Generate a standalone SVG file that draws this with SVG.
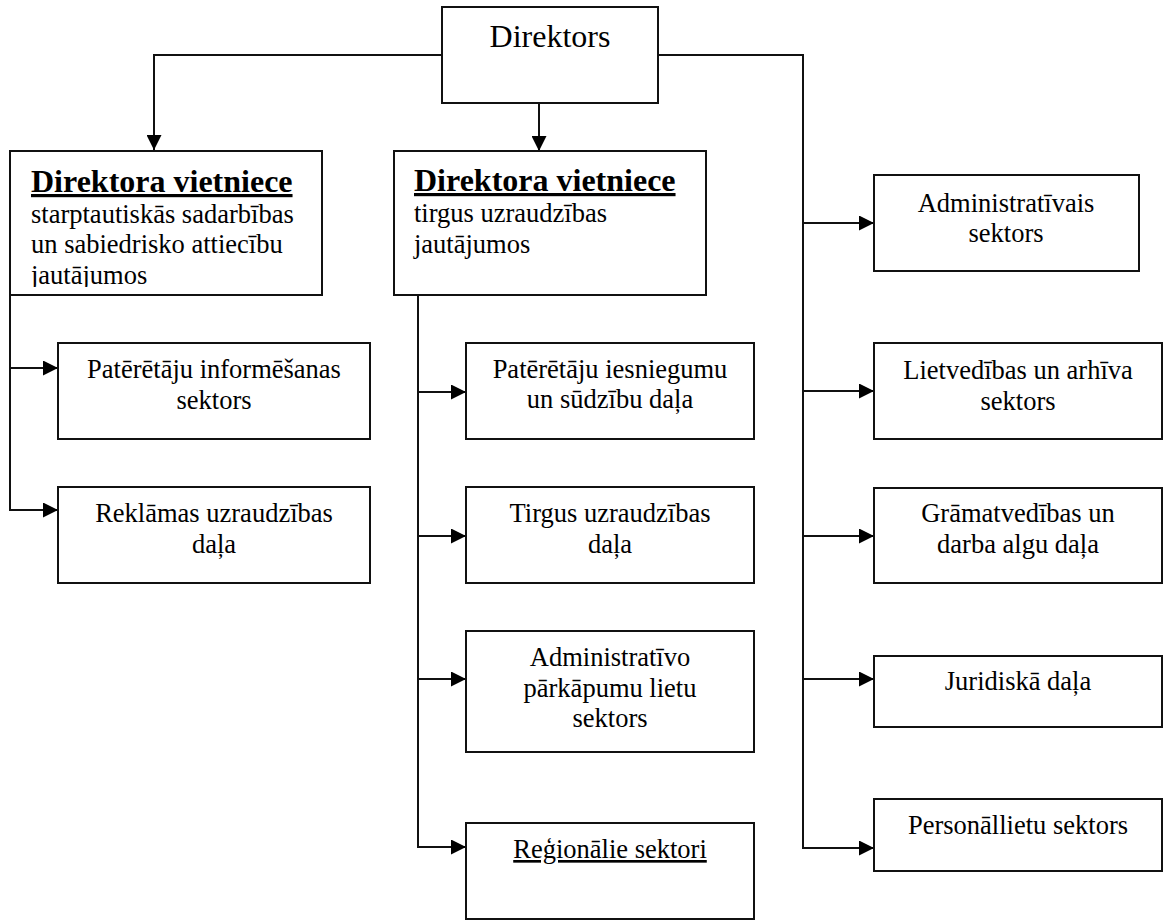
<svg xmlns="http://www.w3.org/2000/svg" width="1163" height="920" viewBox="0 0 1163 920">
<style>
.box{fill:#fff;stroke:#111;stroke-width:2}
.ln{fill:none;stroke:#111;stroke-width:2}
text{font-family:"Liberation Serif","Times New Roman",serif;fill:#000}
.t{font-size:26.5px;text-anchor:middle}
.tl{font-size:26.5px}
.h{font-size:32px;font-weight:bold;text-decoration:underline}
.d{font-size:32px;text-anchor:middle}
</style>
<defs>
<marker id="arr" viewBox="0 0 15 15" refX="15" refY="7.5" markerWidth="15" markerHeight="15" markerUnits="userSpaceOnUse" orient="auto">
<path d="M0,0 L15,7.5 L0,15 z" fill="#000"/>
</marker>
<clipPath id="c1"><rect x="10" y="151" width="312" height="136"/></clipPath>
</defs>
<g id="connectors">
<path class="ln" d="M442,55 H154 V150" marker-end="url(#arr)"/>
<path class="ln" d="M539,103 V151" marker-end="url(#arr)"/>
<path class="ln" d="M658,55 H803 V848 H874" marker-end="url(#arr)"/>
<path class="ln" d="M803,223 H874" marker-end="url(#arr)"/>
<path class="ln" d="M803,391 H874" marker-end="url(#arr)"/>
<path class="ln" d="M803,536 H874" marker-end="url(#arr)"/>
<path class="ln" d="M803,679 H874" marker-end="url(#arr)"/>
<path class="ln" d="M10,295 V510 H58" marker-end="url(#arr)"/>
<path class="ln" d="M10,368 H58" marker-end="url(#arr)"/>
<path class="ln" d="M418,295 V847 H466" marker-end="url(#arr)"/>
<path class="ln" d="M418,392 H466" marker-end="url(#arr)"/>
<path class="ln" d="M418,536 H466" marker-end="url(#arr)"/>
<path class="ln" d="M418,679 H466" marker-end="url(#arr)"/>
</g>
<g id="direktors">
<rect class="box" x="442" y="7" width="216" height="96"/>
<text class="d" x="550" y="47">Direktors</text>
</g>
<g id="vietniece1">
<rect class="box" x="10" y="151" width="312" height="144"/>
<g clip-path="url(#c1)">
<text class="h" x="31" y="192">Direktora vietniece</text>
<text class="tl" x="31" y="222.5">starptautiskās sadarbības</text>
<text class="tl" x="31" y="253">un sabiedrisko attiecību</text>
<text class="tl" x="31" y="283.5">jautājumos</text>
</g>
</g>
<g id="vietniece2">
<rect class="box" x="394" y="151" width="312" height="144"/>
<text class="h" x="414" y="191">Direktora vietniece</text>
<text class="tl" x="414" y="222">tirgus uzraudzības</text>
<text class="tl" x="414" y="253">jautājumos</text>
</g>
<g id="informesana">
<rect class="box" x="58" y="343" width="312" height="96"/>
<text class="t" x="214" y="378">Patērētāju informēšanas</text>
<text class="t" x="214" y="409">sektors</text>
</g>
<g id="reklama">
<rect class="box" x="58" y="487" width="312" height="96"/>
<text class="t" x="214" y="522">Reklāmas uzraudzības</text>
<text class="t" x="214" y="553">daļa</text>
</g>
<g id="iesniegumi">
<rect class="box" x="466" y="343" width="288" height="96"/>
<text class="t" x="610" y="378">Patērētāju iesniegumu</text>
<text class="t" x="610" y="408">un sūdzību daļa</text>
</g>
<g id="tirgus">
<rect class="box" x="466" y="487" width="288" height="96"/>
<text class="t" x="610" y="522">Tirgus uzraudzības</text>
<text class="t" x="610" y="553">daļa</text>
</g>
<g id="parkapumi">
<rect class="box" x="466" y="631" width="288" height="121"/>
<text class="t" x="610" y="666">Administratīvo</text>
<text class="t" x="610" y="697">pārkāpumu lietu</text>
<text class="t" x="610" y="727">sektors</text>
</g>
<g id="regionalie">
<rect class="box" x="466" y="823" width="288" height="96"/>
<text class="t" x="610" y="858" text-decoration="underline">Reģionālie sektori</text>
</g>
<g id="administrativais">
<rect class="box" x="874" y="175" width="265" height="96"/>
<text class="t" x="1006" y="212">Administratīvais</text>
<text class="t" x="1006" y="242">sektors</text>
</g>
<g id="lietvedibas">
<rect class="box" x="874" y="343" width="288" height="96"/>
<text class="t" x="1018" y="379">Lietvedības un arhīva</text>
<text class="t" x="1018" y="410">sektors</text>
</g>
<g id="gramatvedibas">
<rect class="box" x="874" y="488" width="288" height="95"/>
<text class="t" x="1018" y="522">Grāmatvedības un</text>
<text class="t" x="1018" y="553">darba algu daļa</text>
</g>
<g id="juridiska">
<rect class="box" x="874" y="656" width="288" height="71"/>
<text class="t" x="1018" y="690">Juridiskā daļa</text>
</g>
<g id="personallietu">
<rect class="box" x="874" y="799" width="288" height="72"/>
<text class="t" x="1018" y="834">Personāllietu sektors</text>
</g>
</svg>
